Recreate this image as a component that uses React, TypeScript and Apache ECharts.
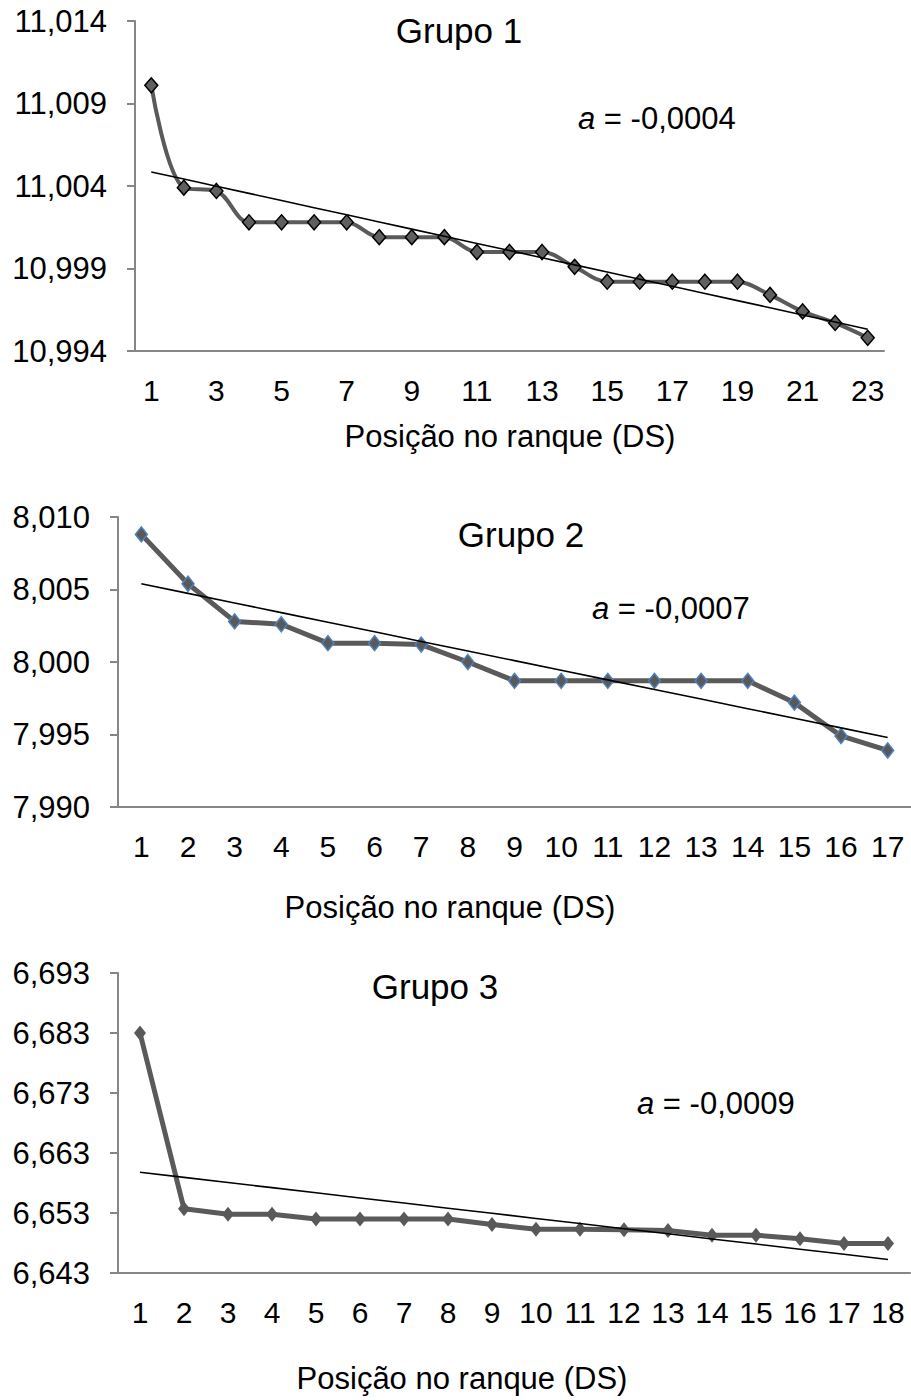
import React, { useEffect, useRef } from "react";
import * as echarts from "echarts";

// ---------- data ----------
const positions1 = ["1","2","3","4","5","6","7","8","9","10","11","12","13","14","15","16","17","18","19","20","21","22","23"];
const positions2 = ["1","2","3","4","5","6","7","8","9","10","11","12","13","14","15","16","17"];
const positions3 = ["1","2","3","4","5","6","7","8","9","10","11","12","13","14","15","16","17","18"];

const group1Values = [11.0101, 11.0039, 11.0037, 11.0018, 11.0018, 11.0018, 11.0018, 11.0009, 11.0009, 11.0009, 11.0000, 11.0000, 11.0000, 10.9991, 10.9982, 10.9982, 10.9982, 10.9982, 10.9982, 10.9974, 10.9964, 10.9957, 10.9948];
const group2Values = [8.0088, 8.0054, 8.0028, 8.0026, 8.0013, 8.0013, 8.0012, 8.0000, 7.9987, 7.9987, 7.9987, 7.9987, 7.9987, 7.9987, 7.9972, 7.9949, 7.9939];
const group3Values = [6.6830, 6.6537, 6.6528, 6.6528, 6.6520, 6.6520, 6.6520, 6.6520, 6.6511, 6.6503, 6.6503, 6.6502, 6.6501, 6.6493, 6.6493, 6.6487, 6.6479, 6.6479];

const yTicks1 = [10.994, 10.999, 11.004, 11.009, 11.014];
const yTicks2 = [7.990, 7.995, 8.000, 8.005, 8.010];
const yTicks3 = [6.643, 6.653, 6.663, 6.673, 6.683, 6.693];

const groupTitles = ["Grupo 1", "Grupo 2", "Grupo 3"];
const slopeTexts = ["-0,0004", "-0,0007", "-0,0009"];
const xAxisTitle = "Posição no ranque (DS)";

// ---------- helpers ----------
const FONT = "'Liberation Sans', Arial, sans-serif";

function linearTrend(values: number[]): number[] {
  const n = values.length;
  const xs = values.map((_, i) => i + 1);
  const mx = xs.reduce((a, b) => a + b, 0) / n;
  const my = values.reduce((a, b) => a + b, 0) / n;
  let sxy = 0, sxx = 0;
  for (let i = 0; i < n; i++) {
    sxy += (xs[i] - mx) * (values[i] - my);
    sxx += (xs[i] - mx) * (xs[i] - mx);
  }
  const b = sxy / sxx;
  const a = my - b * mx;
  return xs.map((x) => a + b * x);
}

const fmt = (v: number) => v.toFixed(3).replace(".", ",");

const panels = [
  { cats: positions1, values: group1Values, ticks: yTicks1, grid: { left: 135, top: 21, width: 749, height: 330 }, labelInterval: 1, smooth: true,
    item: { color: "#5f5f5f", borderColor: "#000000", borderWidth: 1.5 }, symbolSize: [13, 15], lineWidth: 4 },
  { cats: positions2, values: group2Values, ticks: yTicks2, grid: { left: 118, top: 517, width: 793, height: 290 }, labelInterval: 0, smooth: false,
    item: { color: "#595959", borderColor: "#4f81bd", borderWidth: 1.5 }, symbolSize: [12, 15], lineWidth: 5 },
  { cats: positions3, values: group3Values, ticks: yTicks3, grid: { left: 118, top: 973, width: 792, height: 300 }, labelInterval: 0, smooth: false,
    item: { color: "#595959", borderWidth: 0 }, symbolSize: [12, 15], lineWidth: 5 },
];

const textPositions = {
  titles: [[459, 30], [521, 534], [435, 986]],
  slopes: [[578, 118], [592, 608], [637, 1103]],
  axisTitles: [[510, 436], [450, 907], [462, 1378]],
};

export default function App() {
  const ref = useRef<HTMLDivElement>(null);
  useEffect(() => {
    if (!ref.current) return;
    const chart = echarts.init(ref.current, undefined, { renderer: "svg" });

    const grids = panels.map((p) => ({ ...p.grid, containLabel: false }));
    const xAxes = panels.map((p, i) => ({
      type: "category",
      gridIndex: i,
      data: p.cats,
      boundaryGap: true,
      axisLine: { show: true, lineStyle: { color: "#868686", width: 2 } },
      axisTick: { show: false },
      axisLabel: { interval: p.labelInterval, fontSize: 30, color: "#000", fontFamily: FONT, margin: 24 },
      splitLine: { show: false },
    }));
    const yAxes = panels.map((p, i) => ({
      type: "value",
      gridIndex: i,
      min: p.ticks[0],
      max: p.ticks[p.ticks.length - 1],
      axisLine: { show: true, lineStyle: { color: "#868686", width: 2 } },
      axisTick: { show: true, inside: false, length: 8, customValues: p.ticks, lineStyle: { color: "#868686", width: 2 } },
      axisLabel: { customValues: p.ticks, formatter: fmt, fontSize: 31, color: "#000", fontFamily: FONT, margin: 28 },
      splitLine: { show: false },
    }));
    const series: any[] = [];
    panels.forEach((p, i) => {
      series.push({
        type: "line",
        xAxisIndex: i,
        yAxisIndex: i,
        data: p.values,
        smooth: p.smooth ? 0.35 : false,
        symbol: "diamond",
        symbolSize: p.symbolSize,
        itemStyle: p.item,
        lineStyle: { color: "#5a5a5a", width: p.lineWidth },
        z: 2,
      });
      series.push({
        type: "line",
        xAxisIndex: i,
        yAxisIndex: i,
        data: linearTrend(p.values),
        symbol: "none",
        lineStyle: { color: "#000", width: 1.6 },
        z: 3,
      });
    });

    const graphics: any[] = [];
    panels.forEach((_, i) => {
      const [tx, ty] = textPositions.titles[i];
      graphics.push({
        type: "text", x: tx, y: ty,
        style: { text: groupTitles[i], fontSize: 35, fontFamily: FONT, fill: "#000", align: "center", verticalAlign: "middle", textAlign: "center", textVerticalAlign: "middle" },
      });
      const [sx, sy] = textPositions.slopes[i];
      graphics.push({
        type: "text", x: sx, y: sy,
        style: {
          text: "{i|a} = " + slopeTexts[i],
          fontSize: 31, fontFamily: FONT, fill: "#000",
          align: "left", verticalAlign: "middle", textAlign: "left", textVerticalAlign: "middle",
          rich: { i: { fontStyle: "italic", fontSize: 31, fontFamily: FONT, fill: "#000" } },
        },
      });
      const [ax, ay] = textPositions.axisTitles[i];
      graphics.push({
        type: "text", x: ax, y: ay,
        style: { text: xAxisTitle, fontSize: 31, fontFamily: FONT, fill: "#000", align: "center", verticalAlign: "middle", textAlign: "center", textVerticalAlign: "middle" },
      });
    });

    chart.setOption({
      animation: false,
      backgroundColor: "#ffffff",
      grid: grids,
      xAxis: xAxes,
      yAxis: yAxes,
      series,
      graphic: { elements: graphics },
    });
    return () => chart.dispose();
  }, []);

  return <div ref={ref} style={{ position: "absolute", left: 0, top: 0, width: 911, height: 1400 }} />;
}
